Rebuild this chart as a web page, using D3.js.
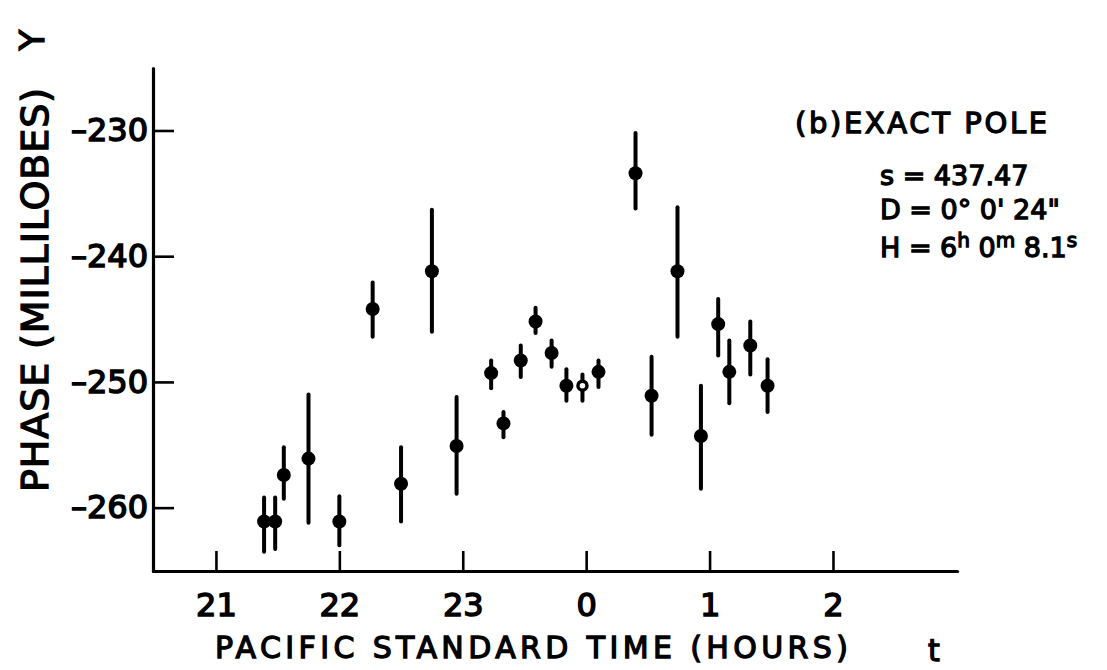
<!DOCTYPE html>
<html>
<head>
<meta charset="utf-8">
<script src="https://cdnjs.cloudflare.com/ajax/libs/d3/7.8.5/d3.min.js"></script>
<style>
  body { margin: 0; background: #fff; }
  svg { display: block; }
  text { font-family: "DejaVu Sans", sans-serif; fill: #000; stroke: #000; stroke-width: 1.3px; }
</style>
</head>
<body>
<div id="chart"></div>
<script>
// data (time in hours, past midnight continues as 24, 25 ...)
var times  = [21.39, 21.48, 21.55, 21.75, 22.00, 22.27, 22.50, 22.75, 22.95, 23.23, 23.33, 23.47, 23.59,
              23.72, 23.84, 23.97, 24.10, 24.40, 24.53, 24.74, 24.93, 25.07, 25.16, 25.33, 25.47];
var phases = [-261.1, -261.1, -257.4, -256.1, -261.1, -244.2, -258.1, -241.2, -255.1, -249.3, -253.3, -248.3, -245.2,
              -247.7, -250.3, -250.3, -249.2, -233.4, -251.1, -241.2, -254.3, -245.4, -249.2, -247.1, -250.3];
var errTop = [-259.2, -259.2, -255.2, -251.0, -259.1, -242.1, -255.2, -236.3, -251.2, -248.3, -252.4, -247.1, -244.1,
              -246.7, -249.0, -249.4, -248.3, -230.2, -248.0, -236.1, -250.3, -243.4, -246.7, -245.2, -248.2];
var errBot = [-263.5, -263.3, -259.3, -261.2, -263.0, -246.4, -261.1, -246.0, -258.9, -250.5, -254.4, -249.6, -246.1,
              -248.8, -251.5, -251.5, -250.4, -236.2, -254.2, -246.4, -258.5, -247.9, -251.7, -249.4, -252.4];
var openPts = [0, 0, 0, 0, 0, 0, 0, 0, 0, 0, 0, 0, 0, 0, 0, 1, 0, 0, 0, 0, 0, 0, 0, 0, 0];

var xTicks = [21, 22, 23, 24, 25, 26];
var xTickLabels = ["21", "22", "23", "0", "1", "2"];
var yTicks = [-230, -240, -250, -260];

var svgWidth = 1107;
var svgHeight = 670;

var svg = d3.select("#chart")
  .append("svg")
  .attr("width", svgWidth)
  .attr("height", svgHeight);

svg.append("rect").attr("width", svgWidth).attr("height", svgHeight).attr("fill", "#fff");

// scales
var x = d3.scaleLinear()
  .domain([20.49, 27.005])
  .range([153, 957]);

var y = d3.scaleLinear()
  .domain([-265.04, -225.03])
  .range([571, 68]);

// x axis, ticks pointing up into the plot
var xAxis = d3.axisBottom(x)
  .tickValues(xTicks)
  .tickFormat(function(d, i) { return xTickLabels[i]; })
  .tickSizeInner(-20)
  .tickSizeOuter(0)
  .tickPadding(22);

var gx = svg.append("g")
  .attr("transform", "translate(0," + 571 + ")")
  .call(xAxis);

// y axis, ticks pointing right into the plot
var yAxis = d3.axisLeft(y)
  .tickValues(yTicks)
  .tickFormat(function(d) { return "\u2013" + Math.abs(d); })
  .tickSizeInner(-21)
  .tickSizeOuter(0)
  .tickPadding(5);

var gy = svg.append("g")
  .attr("transform", "translate(" + 153 + ",0)")
  .call(yAxis);

[gx, gy].forEach(function(g) {
  g.select(".domain")
    .attr("stroke", "#000")
    .attr("stroke-width", 3.2)
    .attr("stroke-linecap", "round");
  g.selectAll(".tick line")
    .attr("stroke", "#000")
    .attr("stroke-width", 2.6);
  g.selectAll(".tick text")
    .attr("font-size", 32)
    .style("font-family", "'DejaVu Sans', sans-serif")
    .style("stroke", "#000")
    .style("stroke-width", "1.5px");
});

// error bars
var pts = times.map(function(t, i) {
  return { t: t, v: phases[i], top: errTop[i], bot: errBot[i], open: openPts[i] };
});

svg.append("g").selectAll("line")
  .data(pts)
  .enter()
  .append("line")
  .attr("x1", function(d) { return x(d.t); })
  .attr("x2", function(d) { return x(d.t); })
  .attr("y1", function(d) { return y(d.top); })
  .attr("y2", function(d) { return y(d.bot); })
  .attr("stroke", "#000")
  .attr("stroke-width", 4)
  .attr("stroke-linecap", "round");

// points
svg.append("g").selectAll("circle")
  .data(pts)
  .enter()
  .append("circle")
  .attr("cx", function(d) { return x(d.t); })
  .attr("cy", function(d) { return y(d.v); })
  .attr("r", function(d) { return d.open ? 4.5 : 7; })
  .attr("fill", function(d) { return d.open ? "#fff" : "#000"; })
  .attr("stroke", "#000")
  .attr("stroke-width", function(d) { return d.open ? 3.5 : 0; });

// axis titles
svg.append("text")
  .attr("x", 215)
  .attr("y", 658)
  .attr("font-size", 30)
  .attr("textLength", 633)
  .attr("lengthAdjust", "spacing")
  .text("PACIFIC STANDARD TIME (HOURS)");

svg.append("text")
  .attr("x", 934)
  .attr("y", 661)
  .attr("font-size", 30)
  .attr("text-anchor", "middle")
  .text("t");

svg.append("text")
  .attr("transform", "translate(48,290) rotate(-90)")
  .attr("font-size", 38)
  .attr("text-anchor", "middle")
  .attr("textLength", 404)
  .attr("lengthAdjust", "spacing")
  .text("PHASE (MILLILOBES)");

svg.append("text")
  .attr("transform", "translate(44,40) rotate(-90)")
  .attr("font-size", 34)
  .attr("text-anchor", "middle")
  .text("Y");

// annotation
svg.append("text")
  .attr("x", 795)
  .attr("y", 133)
  .attr("font-size", 29)
  .attr("textLength", 252)
  .attr("lengthAdjust", "spacing")
  .text("(b)EXACT POLE");

svg.append("text")
  .attr("x", 880)
  .attr("y", 185)
  .attr("font-size", 27)
  .text("s = 437.47");

svg.append("text")
  .attr("x", 880)
  .attr("y", 219)
  .attr("font-size", 27)
  .text("D = 0\u00b0 0' 24\"");

var hLine = svg.append("text")
  .attr("x", 880)
  .attr("y", 257)
  .attr("font-size", 27);
hLine.append("tspan").text("H = 6");
hLine.append("tspan").attr("dy", -10).attr("font-size", 20).text("h");
hLine.append("tspan").attr("dy", 10).text(" 0");
hLine.append("tspan").attr("dy", -10).attr("font-size", 20).text("m");
hLine.append("tspan").attr("dy", 10).text(" 8.1");
hLine.append("tspan").attr("dy", -10).attr("font-size", 20).text("s");
</script>
</body>
</html>
